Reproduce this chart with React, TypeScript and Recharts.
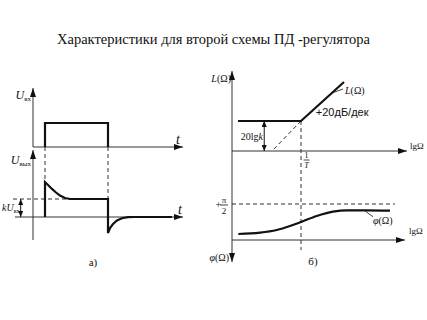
import React from 'react';
import { LineChart, Line, XAxis, YAxis, ReferenceDot } from 'recharts';

// ---------- data ----------
// panel a): input pulse U_in(t) and output U_out(t) (units: kU_in = 1)
const pulseT = [0.8, 0.8, 5, 5];
const pulseU = [0, 1, 1, 0];
const outT = [0.8, 0.8, 1.0, 1.267, 1.533, 1.8, 2.133, 2.467, 5.0, 5.0, 5.133, 5.333, 5.6, 5.933, 6.333, 6.8, 9.267];
const outU = [0, 1.94, 1.78, 1.56, 1.36, 1.19, 1.056, 1.0, 1.0, -0.89, -0.61, -0.39, -0.19, -0.07, -0.01, 0, 0];
const kLevelT = [-1.333, 2.467];
const kLevelU = [1, 1];

// panel б): L(Ω) in dB and φ(Ω) in degrees vs lgΩ (1/T at lgΩ = 0)
const lLg = [-0.913, 0, 0.623];
const lDb = [10, 10, 23];
const asymLg = [0, -0.42];
const asymDb = [10, 0];
const phiLg = [-0.909, -0.594, -0.352, -0.159, 0.01, 0.228, 0.464, 0.662, 0.952, 1.29];
const phiDeg = [15, 18.3, 25, 35, 45.75, 60, 70.75, 74.25, 74.25, 73.25];
const halfPiLg = [-1, 1.362];
const halfPiDeg = [90, 90];

const zip = (xs: number[], ys: number[]) => xs.map((x, i) => ({ x, y: ys[i] }));

const SERIF = "'Liberation Serif','Times New Roman',serif";
const SANS = "'Liberation Sans',Arial,sans-serif";
const INK = '#111';
const AX = '#333';

const Txt = (props: any) => {
  const vb = props.viewBox || {};
  const { anchor = 'start', size = 11, font = SERIF, parts } = props;
  return (
    <text x={vb.x} y={vb.y} textAnchor={anchor} fontSize={size} fontFamily={font} fill={INK}>
      {parts}
    </text>
  );
};

const Frac = (props: any) => {
  const vb = props.viewBox || {};
  const { top, bottom, size = 8, w = 6, italicBottom = true } = props;
  const x = vb.x, y = vb.y;
  return (
    <g fontFamily={SERIF} fill={INK}>
      <text x={x} y={y - 2} textAnchor="middle" fontSize={size}>{top}</text>
      <line x1={x - w / 2} x2={x + w / 2} y1={y} y2={y} stroke={INK} strokeWidth={0.8} />
      <text x={x} y={y + size} textAnchor="middle" fontSize={size} fontStyle={italicBottom ? 'italic' : 'normal'}>{bottom}</text>
    </g>
  );
};

const Markers = ({ p }: { p: string }) => (
  <defs>
    <marker id={p + 'big'} markerUnits="userSpaceOnUse" markerWidth={9} markerHeight={6} refX={9} refY={3} orient="auto-start-reverse">
      <path d="M0,0 L9,3 L0,6 z" fill={INK} />
    </marker>
    <marker id={p + 'sm'} markerUnits="userSpaceOnUse" markerWidth={6} markerHeight={5} refX={6} refY={2.5} orient="auto-start-reverse">
      <path d="M0,0 L6,2.5 L0,5 z" fill={INK} />
    </marker>
  </defs>
);

// ---------- layout ----------
const H = 320;
const LW = 200;
const RW = 227;
// left: t axis origin at 33px, 15px per unit; U_in zero at 147px, 24px/unit; U_out zero at 217px, 18px/unit
const tDom = [-33 / 15, (LW - 33) / 15];
const inDom = [-(H - 147) / 24, 147 / 24];
const outDom = [-(H - 217) / 18, 217 / 18];
// right: lgΩ=0 at 301-200=101px, 69px/decade; L zero at 151px, 3px/dB; φ zero at 240px, 0.4px/deg
const lgDom = [-101 / 69, (RW - 101) / 69];
const lDom = [-(H - 151) / 3, 151 / 3];
const phDom = [-(H - 240) / 0.4, 240 / 0.4];

const common = { dot: false, activeDot: false, isAnimationActive: false, dataKey: 'y', type: 'linear' as const };

export default function App() {
  return (
    <div style={{ position: 'absolute', left: 0, top: 0, width: 427, height: 320, background: '#fff', overflow: 'hidden' }}>
      <div style={{ position: 'absolute', left: 0, top: 30, width: 427, textAlign: 'center', fontFamily: SERIF, fontSize: 14.5, lineHeight: '18px', color: INK }}>
        Характеристики для второй схемы ПД -регулятора
      </div>

      {/* panel a) */}
      <div style={{ position: 'absolute', left: 0, top: 0 }}>
        <LineChart width={LW} height={H} margin={{ top: 0, right: 0, bottom: 0, left: 0 }}>
          <Markers p="a" />
          <XAxis type="number" dataKey="x" domain={tDom} hide allowDataOverflow />
          <YAxis yAxisId="in" type="number" domain={inDom} hide allowDataOverflow />
          <YAxis yAxisId="out" type="number" domain={outDom} hide allowDataOverflow />

          <Line {...common} yAxisId="in" data={zip([0, 0], [0, 2.458])} stroke={AX} strokeWidth={1} markerEnd="url(#abig)" />
          <Line {...common} yAxisId="in" data={zip([0, 10], [0, 0])} stroke={AX} strokeWidth={1} markerEnd="url(#abig)" />
          <Line {...common} yAxisId="out" data={zip([0, 0], [-1.278, 3.722])} stroke={AX} strokeWidth={1} markerEnd="url(#abig)" />
          <Line {...common} yAxisId="out" data={zip([-1.2, 10], [0, 0])} stroke={AX} strokeWidth={1} markerEnd="url(#abig)" />

          <Line {...common} yAxisId="out" data={zip([0.8, 0.8], [3.889, 1.944])} stroke={AX} strokeWidth={1} strokeDasharray="4 3" />
          <Line {...common} yAxisId="out" data={zip([5, 5], [3.889, 1.0])} stroke={AX} strokeWidth={1} strokeDasharray="4 3" />
          <Line {...common} yAxisId="out" data={zip(kLevelT, kLevelU)} stroke={AX} strokeWidth={1} strokeDasharray="4 3" />
          <Line {...common} yAxisId="out" data={zip([-0.82, -0.82], [0, 1])} stroke={INK} strokeWidth={1} markerStart="url(#asm)" markerEnd="url(#asm)" />

          <Line {...common} yAxisId="in" data={zip(pulseT, pulseU)} stroke={INK} strokeWidth={2.2} />
          <Line {...common} yAxisId="out" data={zip(outT, outU)} stroke={INK} strokeWidth={2.2} />

          <ReferenceDot yAxisId="in" x={-0.133} y={2.0} r={0} stroke="none" fill="none"
            label={<Txt anchor="end" size={12} parts={[<tspan key="a" fontStyle="italic">U</tspan>, <tspan key="b" fontSize={7} dy={2}>вх</tspan>]} />} />
          <ReferenceDot yAxisId="in" x={-0.133} y={-0.708} r={0} stroke="none" fill="none"
            label={<Txt anchor="end" size={12} parts={[<tspan key="a" fontStyle="italic">U</tspan>, <tspan key="b" fontSize={7} dy={2}>вых</tspan>]} />} />
          <ReferenceDot yAxisId="in" x={9.53} y={0.125} r={0} stroke="none" fill="none"
            label={<Txt size={14} parts={[<tspan key="a" fontStyle="italic">t</tspan>]} />} />
          <ReferenceDot yAxisId="out" x={9.667} y={0.167} r={0} stroke="none" fill="none"
            label={<Txt size={14} parts={[<tspan key="a" fontStyle="italic">t</tspan>]} />} />
          <ReferenceDot yAxisId="out" x={-0.9} y={0.333} r={0} stroke="none" fill="none"
            label={<Txt anchor="end" size={10} parts={[<tspan key="a" fontStyle="italic">kU</tspan>, <tspan key="b" fontSize={6} dy={2}>вх</tspan>]} />} />
          <ReferenceDot yAxisId="out" x={4} y={-2.722} r={0} stroke="none" fill="none"
            label={<Txt anchor="middle" size={11} parts={['а)']} />} />
        </LineChart>
      </div>

      {/* panel б) */}
      <div style={{ position: 'absolute', left: LW, top: 0 }}>
        <LineChart width={RW} height={H} margin={{ top: 0, right: 0, bottom: 0, left: 0 }}>
          <Markers p="b" />
          <XAxis type="number" dataKey="x" domain={lgDom} hide allowDataOverflow />
          <YAxis yAxisId="L" type="number" domain={lDom} hide allowDataOverflow />
          <YAxis yAxisId="ph" type="number" domain={phDom} hide allowDataOverflow />

          <Line {...common} yAxisId="L" data={zip([-1, -1], [-37, 26.67])} stroke={AX} strokeWidth={1} markerStart="url(#bbig)" markerEnd="url(#bbig)" />
          <Line {...common} yAxisId="L" data={zip([-1, 1.536], [0, 0])} stroke={AX} strokeWidth={1} markerEnd="url(#bbig)" />
          <Line {...common} yAxisId="ph" data={zip([-1, 1.507], [0, 0])} stroke={AX} strokeWidth={1} markerEnd="url(#bbig)" />

          <Line {...common} yAxisId="L" data={zip([0, 0], [10, -33])} stroke={AX} strokeWidth={1} strokeDasharray="4 3" />
          <Line {...common} yAxisId="L" data={zip(asymLg, asymDb)} stroke={AX} strokeWidth={1} strokeDasharray="4 3" />
          <Line {...common} yAxisId="ph" data={zip(halfPiLg, halfPiDeg)} stroke={AX} strokeWidth={1} strokeDasharray="4 3" />
          <Line {...common} yAxisId="L" data={zip([-0.533, -0.533], [0, 10])} stroke={INK} strokeWidth={1} markerStart="url(#bsm)" markerEnd="url(#bsm)" />
          <Line {...common} yAxisId="L" data={zip([0.449, 0.609], [19.33, 20.67])} stroke={INK} strokeWidth={0.8} />
          <Line {...common} yAxisId="ph" data={zip([0.928, 1.043], [72.5, 58.25])} stroke={INK} strokeWidth={0.8} />

          <Line {...common} yAxisId="L" data={zip(lLg, lDb)} stroke={INK} strokeWidth={2.2} />
          <Line {...common} yAxisId="ph" data={zip(phiLg, phiDeg)} type="monotone" stroke={INK} strokeWidth={2.2} />

          <ReferenceDot yAxisId="L" x={-1.0145} y={23} r={0} stroke="none" fill="none"
            label={<Txt anchor="end" size={10} parts={[<tspan key="a" fontStyle="italic">L</tspan>, '(Ω)']} />} />
          <ReferenceDot yAxisId="L" x={-0.551} y={3.667} r={0} stroke="none" fill="none"
            label={<Txt anchor="end" size={10} parts={['20lg', <tspan key="a" fontStyle="italic">k</tspan>]} />} />
          <ReferenceDot yAxisId="L" x={0.215} y={11.667} r={0} stroke="none" fill="none"
            label={<Txt size={11} font={SANS} parts={['+20дБ/дек']} />} />
          <ReferenceDot yAxisId="L" x={0.638} y={19} r={0} stroke="none" fill="none"
            label={<Txt size={10} parts={[<tspan key="a" fontStyle="italic">L</tspan>, '(Ω)']} />} />
          <ReferenceDot yAxisId="L" x={1.58} y={0.667} r={0} stroke="none" fill="none"
            label={<Txt size={9} parts={['lgΩ']} />} />
          <ReferenceDot yAxisId="L" x={0.08} y={-3} r={0} stroke="none" fill="none"
            label={<Frac top="1" bottom="T" size={8} w={6} />} />
          <ReferenceDot yAxisId="ph" x={-1.116} y={87.5} r={0} stroke="none" fill="none"
            label={<Frac top="π" bottom="2" size={9} w={8} italicBottom={false} />} />
          <ReferenceDot yAxisId="ph" x={-1.2} y={80} r={0} stroke="none" fill="none"
            label={<Txt anchor="middle" size={10} parts={['+']} />} />
          <ReferenceDot yAxisId="ph" x={1.043} y={40} r={0} stroke="none" fill="none"
            label={<Txt size={10} parts={[<tspan key="a" fontStyle="italic">φ</tspan>, '(Ω)']} />} />
          <ReferenceDot yAxisId="ph" x={1.565} y={15} r={0} stroke="none" fill="none"
            label={<Txt size={9} parts={['lgΩ']} />} />
          <ReferenceDot yAxisId="ph" x={-1.043} y={-52.5} r={0} stroke="none" fill="none"
            label={<Txt anchor="end" size={10} parts={[<tspan key="a" fontStyle="italic">φ</tspan>, '(Ω)']} />} />
          <ReferenceDot yAxisId="ph" x={0.174} y={-62.5} r={0} stroke="none" fill="none"
            label={<Txt anchor="middle" size={11} parts={['б)']} />} />
        </LineChart>
      </div>
    </div>
  );
}
